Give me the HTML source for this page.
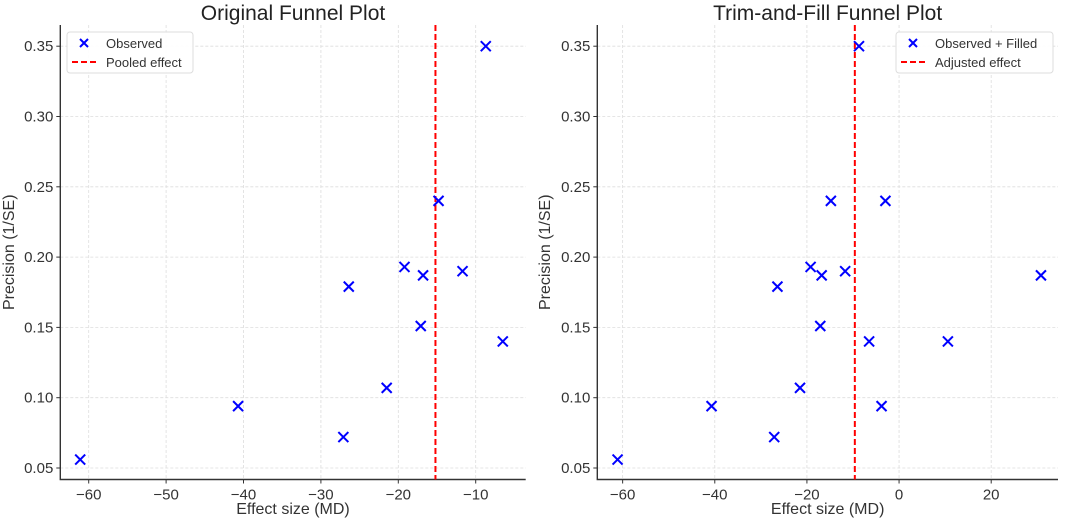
<!DOCTYPE html>
<html><head><meta charset="utf-8"><style>
html,body{margin:0;padding:0;background:#fff;}
svg{display:block;font-family:"Liberation Sans","DejaVu Sans",sans-serif;}
</style></head><body>
<svg id="chart" width="1065" height="519" viewBox="0 0 1065 519" xmlns="http://www.w3.org/2000/svg"></svg>
<script>
const observedX=[-8.7,-14.8,-19.2,-16.8,-11.7,-26.4,-17.1,-6.5,-21.5,-40.7,-27.1,-61.1];
const observedY=[0.350,0.240,0.193,0.187,0.190,0.179,0.151,0.140,0.107,0.094,0.072,0.056];
const filledX=[-2.96,-3.8,10.6,30.8];
const filledY=[0.240,0.094,0.140,0.187];
const pooledEffect=-15.2;
const adjustedEffect=-9.6;
const yTicks=[0.05,0.10,0.15,0.20,0.25,0.30,0.35];
const xTicksLeft=[-60,-50,-40,-30,-20,-10];
const xTicksRight=[-60,-40,-20,0,20];

const svg=document.getElementById('chart');
const NS='http://www.w3.org/2000/svg';
function mk(tag,attrs,parent,text){const e=document.createElementNS(NS,tag);for(const k in attrs)e.setAttribute(k,attrs[k]);if(text!==undefined)e.textContent=text;(parent||svg).appendChild(e);return e;}

function panel(cfg){
  const g=mk('g',{});
  
  
  const L=cfg.left,R=cfg.right,T=25,B=479.5;
  const sx=v=>L+(v-cfg.xmin)/(cfg.xmax-cfg.xmin)*(R-L);
  const sy=v=>468-(v-0.05)*1406;
  cfg.xt.forEach(t=>{
    const l=mk('line',{x1:sx(t),x2:sx(t),y1:T,y2:B,stroke:'#ddd','stroke-dasharray':'3,2','stroke-width':0.8},g);
    
    const tk=mk('line',{x1:sx(t),x2:sx(t),y1:B,y2:B+4,stroke:'#333'},g);
    
    const tx=mk('text',{x:sx(t),y:B+20,'text-anchor':'middle','font-size':15,fill:'#333'},g,(t<0?'\u2212'+(-t):String(t)));
    
  });
  yTicks.forEach(t=>{
    const l=mk('line',{x1:L,x2:R,y1:sy(t),y2:sy(t),stroke:'#ddd','stroke-dasharray':'3,2','stroke-width':0.8},g);
    
    const tk=mk('line',{x1:L-4,x2:L,y1:sy(t),y2:sy(t),stroke:'#333'},g);
    
    const tx=mk('text',{x:L-7,y:sy(t)+5,'text-anchor':'end','font-size':15,fill:'#333'},g,t.toFixed(2));
    
  });
  const ax=mk('path',{d:`M${L},${T}V${B}H${R}`,fill:'none',stroke:'#333','stroke-width':1.4},g);
  
  const el=mk('line',{x1:sx(cfg.effect),x2:sx(cfg.effect),y1:T,y2:B,stroke:'#ff0000','stroke-width':2,'stroke-dasharray':'6,3'},g);
  
  const drawX=(x,y)=>{
    const p=mk('path',{d:`M${x-5},${y-5}L${x+5},${y+5}M${x-5},${y+5}L${x+5},${y-5}`,stroke:'#0000ff','stroke-width':2},g);
    
  };
  cfg.xs.forEach((v,i)=>drawX(sx(v),sy(cfg.ys[i])));
  const ti=mk('text',{x:(L+R)/2,y:20,'text-anchor':'middle','font-size':21,fill:'#222'},g,cfg.title);
  
  const xl=mk('text',{x:(L+R)/2,y:514,'text-anchor':'middle','font-size':16,fill:'#333'},g,'Effect size (MD)');
  
  const yl=mk('text',{x:cfg.ylx,y:(T+B)/2,'text-anchor':'middle','font-size':16,fill:'#333',transform:`rotate(-90 ${cfg.ylx} ${(T+B)/2})`},g,'Precision (1/SE)');
  
  const lg=mk('g',{},g);
  
  mk('rect',{x:cfg.lx,y:32,width:cfg.lw,height:41,rx:3,fill:'#fff','fill-opacity':0.9,stroke:'#ddd'},lg);
  const mx=cfg.lx+17,my=43;
  mk('path',{d:`M${mx-4},${my-4}L${mx+4},${my+4}M${mx-4},${my+4}L${mx+4},${my-4}`,stroke:'#0000ff','stroke-width':2},lg);
  const t1=mk('text',{x:cfg.lx+39,y:my+5,'font-size':13,fill:'#333'},lg,cfg.leg1);
  
  mk('line',{x1:cfg.lx+5,x2:cfg.lx+30,y1:62,y2:62,stroke:'#ff0000','stroke-width':2,'stroke-dasharray':'6,3'},lg);
  const t2=mk('text',{x:cfg.lx+39,y:67,'font-size':13,fill:'#333'},lg,cfg.leg2);
  
}
panel({name:'original-funnel-plot',left:60.3,right:525.7,xmin:-63.67,xmax:-3.54,xt:xTicksLeft,xs:observedX,ys:observedY,effect:pooledEffect,effectName:'pooled-effect-line',title:'Original Funnel Plot',ylx:14,lx:67,lw:126,leg1:'Observed',leg2:'Pooled effect'});
panel({name:'trim-and-fill-funnel-plot',left:597.3,right:1058,xmin:-65.5,xmax:34.5,xt:xTicksRight,xs:observedX.concat(filledX),ys:observedY.concat(filledY),effect:adjustedEffect,effectName:'adjusted-effect-line',title:'Trim-and-Fill Funnel Plot',ylx:550,lx:896,lw:157,leg1:'Observed + Filled',leg2:'Adjusted effect'});
</script>
</body></html>
